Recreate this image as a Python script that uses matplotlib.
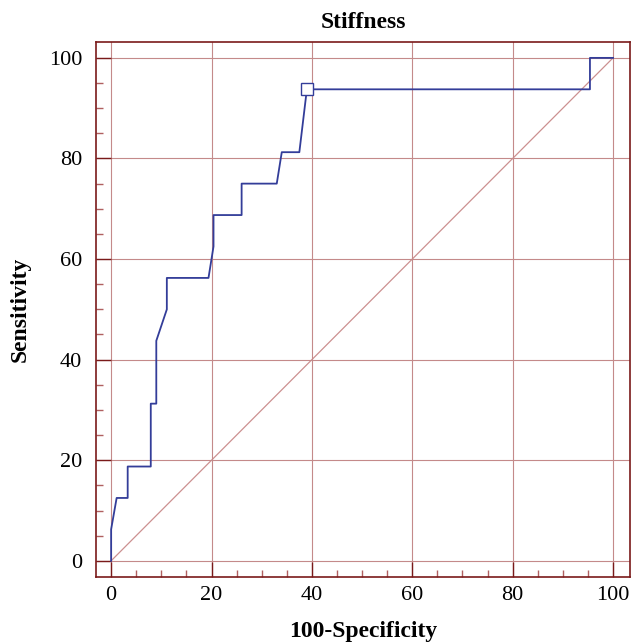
import matplotlib.pyplot as plt
import numpy as np

plt.rcParams['font.family'] = ['Liberation Serif', 'DejaVu Serif']

# ROC curve points (100-Specificity, Sensitivity)
fpr = [0, 0, 1.1, 3.3, 3.3, 7.9, 7.9, 9.0, 9.0, 11.1, 11.1, 19.4, 20.4, 20.4,
       26.0, 26.0, 33.0, 34.0, 37.5, 39.0, 95.4, 95.4, 100]
tpr = [0, 6.25, 12.5, 12.5, 18.75, 18.75, 31.25, 31.25, 43.75, 50, 56.25, 56.25,
       62.5, 68.75, 68.75, 75, 75, 81.25, 81.25, 93.75, 93.75, 100, 100]
best_x, best_y = 39.0, 93.75

frame = '#7a1a1a'
gridc = '#c48a8a'

fig = plt.figure(figsize=(6.32, 6.43), dpi=100)
ax = fig.add_axes([0.152, 0.102, 0.845, 0.833])

ax.plot([0, 100], [0, 100], color='#cc9090', lw=0.9, zorder=1)
ax.plot(fpr, tpr, color='#333d99', lw=1.3, zorder=3)
ax.plot(best_x, best_y, marker='s', ms=8, mfc='white', mec='#333d99', mew=1.0, zorder=4)

ax.set_xlim(-3, 103.4)
ax.set_ylim(-3.3, 103.2)
ticks = np.arange(0, 101, 20)
ax.set_xticks(ticks)
ax.set_yticks(ticks)
ax.set_xticks(np.arange(0, 101, 5), minor=True)
ax.set_yticks(np.arange(0, 101, 5), minor=True)
ax.grid(True, which='major', color=gridc, lw=0.8, zorder=0)
ax.tick_params(which='major', direction='in', length=11, width=1.0, color=frame,
               labelsize=16, top=False, right=False)
ax.tick_params(which='minor', direction='in', length=5, width=1.0, color='#b06060',
               top=False, right=False)
ax.tick_params(axis='x', pad=6)
ax.tick_params(axis='y', pad=10)
for s in ax.spines.values():
    s.set_color(frame)
    s.set_linewidth(1.2)

ax.set_title('Stiffness', fontsize=17, fontweight='bold', pad=10)
ax.set_xlabel('100-Specificity', fontsize=17, fontweight='bold', labelpad=12)
ax.set_ylabel('Sensitivity', fontsize=17, fontweight='bold', labelpad=13)

plt.savefig('out.png', dpi=100)
